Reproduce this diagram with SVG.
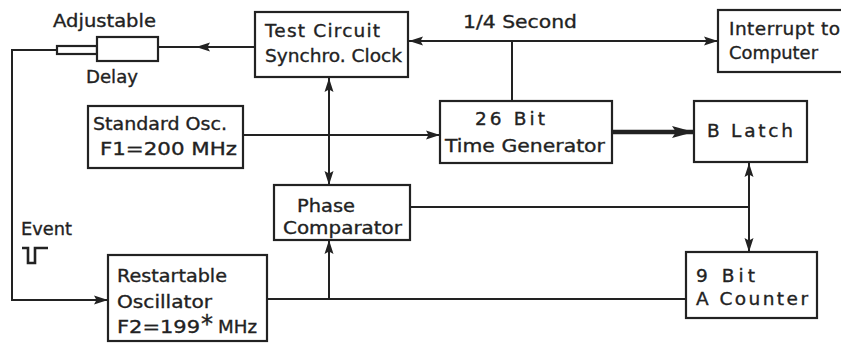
<svg xmlns="http://www.w3.org/2000/svg" width="841" height="343" viewBox="0 0 841 343">
<style>
.box{fill:#fff;stroke:#222;stroke-width:2.2}
.ln{fill:none;stroke:#222;stroke-width:2}
.thick{fill:none;stroke:#222;stroke-width:4.5}
text{font-family:"DejaVu Sans","Liberation Sans",sans-serif;font-size:18.5px;fill:#222;stroke:#222;stroke-width:0.35}
</style>
<defs>
<marker id="ah" viewBox="0 0 14 10" refX="14" refY="5" markerWidth="14" markerHeight="10" markerUnits="userSpaceOnUse" orient="auto-start-reverse">
<path d="M0,0.5 L14,5 L0,9.5 L2.5,5 Z" fill="#222"/>
</marker>
<marker id="ahb" viewBox="0 0 22 12" refX="22" refY="6" markerWidth="22" markerHeight="12" markerUnits="userSpaceOnUse" orient="auto">
<path d="M0,0 L22,6 L0,12 L4,6 Z" fill="#222"/>
</marker>
</defs>
<rect width="841" height="343" fill="#fff"/>

<g id="connectors">
<path class="ln" d="M255,47 H196" marker-end="url(#ah)"/>
<path class="ln" d="M198,47 H158"/>
<path class="ln" d="M57,50 H12 V300 H108" marker-end="url(#ah)"/>
<path class="ln" d="M409,41 H718" marker-start="url(#ah)" marker-end="url(#ah)"/>
<path class="ln" d="M512,41 V101"/>
<path class="ln" d="M329,78 V185" marker-start="url(#ah)" marker-end="url(#ah)"/>
<path class="ln" d="M243,135 H440" marker-end="url(#ah)"/>
<path class="thick" d="M612,132 H694" marker-end="url(#ahb)"/>
<path class="ln" d="M410,207 H749"/>
<path class="ln" d="M749,163 V252" marker-start="url(#ah)" marker-end="url(#ah)"/>
<path class="ln" d="M267,299 H686"/>
<path class="ln" d="M329,299 V240" marker-end="url(#ah)"/>
</g>

<g id="delay">
<rect class="box" x="57" y="46" width="40" height="8"/>
<rect class="box" x="97" y="37" width="61" height="24"/>
<text x="53" y="27" textLength="103" lengthAdjust="spacingAndGlyphs">Adjustable</text>
<text x="86" y="83" textLength="52" lengthAdjust="spacingAndGlyphs">Delay</text>
</g>

<g id="test-circuit">
<rect class="box" x="255" y="12" width="153" height="65"/>
<text x="265" y="37" textLength="115" lengthAdjust="spacing">Test Circuit</text>
<text x="265" y="62" textLength="137" lengthAdjust="spacingAndGlyphs">Synchro. Clock</text>
</g>

<g id="quarter-second">
<text x="463" y="28" textLength="114" lengthAdjust="spacingAndGlyphs">1/4 Second</text>
</g>

<g id="interrupt">
<rect class="box" x="718" y="10" width="140" height="62"/>
<text x="729" y="35" textLength="111" lengthAdjust="spacing">Interrupt to</text>
<text x="729" y="59" textLength="89" lengthAdjust="spacingAndGlyphs">Computer</text>
</g>

<g id="standard-osc">
<rect class="box" x="88" y="106" width="155" height="62"/>
<text x="93" y="130" textLength="134" lengthAdjust="spacingAndGlyphs">Standard Osc.</text>
<text x="100" y="155" textLength="137" lengthAdjust="spacingAndGlyphs">F1=200 MHz</text>
</g>

<g id="time-generator">
<rect class="box" x="440" y="101" width="172" height="62"/>
<text x="475" y="125" textLength="70" lengthAdjust="spacing">26 Bit</text>
<text x="445" y="152" textLength="160" lengthAdjust="spacingAndGlyphs">Time Generator</text>
</g>

<g id="b-latch">
<rect class="box" x="694" y="101" width="113" height="61"/>
<text x="707" y="137" textLength="86" lengthAdjust="spacing">B Latch</text>
</g>

<g id="phase-comparator">
<rect class="box" x="274" y="185" width="136" height="55"/>
<text x="297" y="212" textLength="58" lengthAdjust="spacingAndGlyphs">Phase</text>
<text x="283" y="234" textLength="119" lengthAdjust="spacingAndGlyphs">Comparator</text>
</g>

<g id="event">
<text x="21" y="235" textLength="51" lengthAdjust="spacingAndGlyphs">Event</text>
<path d="M22,248 H28 V263 H35 V248 H48" fill="none" stroke="#222" stroke-width="2.6"/>
</g>

<g id="restartable-osc">
<rect class="box" x="108" y="255" width="159" height="86"/>
<text x="117" y="282" textLength="110" lengthAdjust="spacingAndGlyphs">Restartable</text>
<text x="117" y="308" textLength="95" lengthAdjust="spacingAndGlyphs">Oscillator</text>
<text x="117" y="333"><tspan textLength="83" lengthAdjust="spacingAndGlyphs">F2=199</tspan><tspan x="201" y="332" font-size="24">*</tspan><tspan x="218" y="333" textLength="39" lengthAdjust="spacingAndGlyphs">MHz</tspan></text>
</g>

<g id="a-counter">
<rect class="box" x="686" y="252" width="131" height="66"/>
<text x="696" y="282" textLength="59" lengthAdjust="spacing">9 Bit</text>
<text x="696" y="305" textLength="112" lengthAdjust="spacing">A Counter</text>
</g>
</svg>
